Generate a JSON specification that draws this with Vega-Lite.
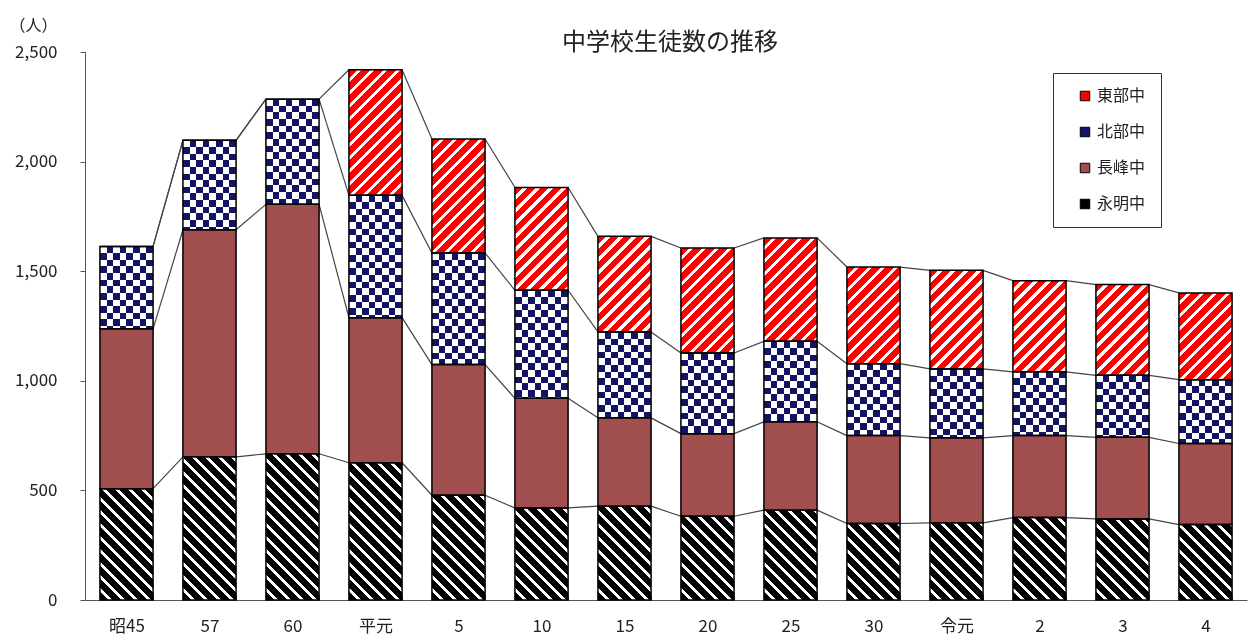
{
  "$schema": "https://vega.github.io/schema/vega-lite/v6.json",
  "width": 1162,
  "height": 548,
  "autosize": {"type": "none"},
  "padding": {"left": 85, "top": 52, "right": 1, "bottom": 39},
  "title": {"text": "中学校生徒数の推移", "fontSize": 24, "fontWeight": "normal", "font": "Noto Sans CJK JP", "color": "#222", "anchor": "middle", "frame": "group", "offset": 4, "dx": 4, "dy": 42},
  "params": [
    {"name": "redStops", "value": [
      {"offset": 0, "color": "#f00"}, {"offset": 0.04, "color": "#f00"}, {"offset": 0.04, "color": "#fff"}, {"offset": 0.0625, "color": "#fff"},
      {"offset": 0.0625, "color": "#f00"}, {"offset": 0.1025, "color": "#f00"}, {"offset": 0.1025, "color": "#fff"}, {"offset": 0.125, "color": "#fff"},
      {"offset": 0.125, "color": "#f00"}, {"offset": 0.165, "color": "#f00"}, {"offset": 0.165, "color": "#fff"}, {"offset": 0.1875, "color": "#fff"},
      {"offset": 0.1875, "color": "#f00"}, {"offset": 0.2275, "color": "#f00"}, {"offset": 0.2275, "color": "#fff"}, {"offset": 0.25, "color": "#fff"},
      {"offset": 0.25, "color": "#f00"}, {"offset": 0.29, "color": "#f00"}, {"offset": 0.29, "color": "#fff"}, {"offset": 0.3125, "color": "#fff"},
      {"offset": 0.3125, "color": "#f00"}, {"offset": 0.3525, "color": "#f00"}, {"offset": 0.3525, "color": "#fff"}, {"offset": 0.375, "color": "#fff"},
      {"offset": 0.375, "color": "#f00"}, {"offset": 0.415, "color": "#f00"}, {"offset": 0.415, "color": "#fff"}, {"offset": 0.4375, "color": "#fff"},
      {"offset": 0.4375, "color": "#f00"}, {"offset": 0.4775, "color": "#f00"}, {"offset": 0.4775, "color": "#fff"}, {"offset": 0.5, "color": "#fff"},
      {"offset": 0.5, "color": "#f00"}, {"offset": 0.54, "color": "#f00"}, {"offset": 0.54, "color": "#fff"}, {"offset": 0.5625, "color": "#fff"},
      {"offset": 0.5625, "color": "#f00"}, {"offset": 0.6025, "color": "#f00"}, {"offset": 0.6025, "color": "#fff"}, {"offset": 0.625, "color": "#fff"},
      {"offset": 0.625, "color": "#f00"}, {"offset": 0.665, "color": "#f00"}, {"offset": 0.665, "color": "#fff"}, {"offset": 0.6875, "color": "#fff"},
      {"offset": 0.6875, "color": "#f00"}, {"offset": 0.7275, "color": "#f00"}, {"offset": 0.7275, "color": "#fff"}, {"offset": 0.75, "color": "#fff"},
      {"offset": 0.75, "color": "#f00"}, {"offset": 0.79, "color": "#f00"}, {"offset": 0.79, "color": "#fff"}, {"offset": 0.8125, "color": "#fff"},
      {"offset": 0.8125, "color": "#f00"}, {"offset": 0.8525, "color": "#f00"}, {"offset": 0.8525, "color": "#fff"}, {"offset": 0.875, "color": "#fff"},
      {"offset": 0.875, "color": "#f00"}, {"offset": 0.915, "color": "#f00"}, {"offset": 0.915, "color": "#fff"}, {"offset": 0.9375, "color": "#fff"},
      {"offset": 0.9375, "color": "#f00"}, {"offset": 0.9775, "color": "#f00"}, {"offset": 0.9775, "color": "#fff"}, {"offset": 1, "color": "#fff"}
    ]},
    {"name": "blackStops", "value": [
      {"offset": 0, "color": "#000"}, {"offset": 0.04, "color": "#000"}, {"offset": 0.04, "color": "#fff"}, {"offset": 0.0625, "color": "#fff"},
      {"offset": 0.0625, "color": "#000"}, {"offset": 0.1025, "color": "#000"}, {"offset": 0.1025, "color": "#fff"}, {"offset": 0.125, "color": "#fff"},
      {"offset": 0.125, "color": "#000"}, {"offset": 0.165, "color": "#000"}, {"offset": 0.165, "color": "#fff"}, {"offset": 0.1875, "color": "#fff"},
      {"offset": 0.1875, "color": "#000"}, {"offset": 0.2275, "color": "#000"}, {"offset": 0.2275, "color": "#fff"}, {"offset": 0.25, "color": "#fff"},
      {"offset": 0.25, "color": "#000"}, {"offset": 0.29, "color": "#000"}, {"offset": 0.29, "color": "#fff"}, {"offset": 0.3125, "color": "#fff"},
      {"offset": 0.3125, "color": "#000"}, {"offset": 0.3525, "color": "#000"}, {"offset": 0.3525, "color": "#fff"}, {"offset": 0.375, "color": "#fff"},
      {"offset": 0.375, "color": "#000"}, {"offset": 0.415, "color": "#000"}, {"offset": 0.415, "color": "#fff"}, {"offset": 0.4375, "color": "#fff"},
      {"offset": 0.4375, "color": "#000"}, {"offset": 0.4775, "color": "#000"}, {"offset": 0.4775, "color": "#fff"}, {"offset": 0.5, "color": "#fff"},
      {"offset": 0.5, "color": "#000"}, {"offset": 0.54, "color": "#000"}, {"offset": 0.54, "color": "#fff"}, {"offset": 0.5625, "color": "#fff"},
      {"offset": 0.5625, "color": "#000"}, {"offset": 0.6025, "color": "#000"}, {"offset": 0.6025, "color": "#fff"}, {"offset": 0.625, "color": "#fff"},
      {"offset": 0.625, "color": "#000"}, {"offset": 0.665, "color": "#000"}, {"offset": 0.665, "color": "#fff"}, {"offset": 0.6875, "color": "#fff"},
      {"offset": 0.6875, "color": "#000"}, {"offset": 0.7275, "color": "#000"}, {"offset": 0.7275, "color": "#fff"}, {"offset": 0.75, "color": "#fff"},
      {"offset": 0.75, "color": "#000"}, {"offset": 0.79, "color": "#000"}, {"offset": 0.79, "color": "#fff"}, {"offset": 0.8125, "color": "#fff"},
      {"offset": 0.8125, "color": "#000"}, {"offset": 0.8525, "color": "#000"}, {"offset": 0.8525, "color": "#fff"}, {"offset": 0.875, "color": "#fff"},
      {"offset": 0.875, "color": "#000"}, {"offset": 0.915, "color": "#000"}, {"offset": 0.915, "color": "#fff"}, {"offset": 0.9375, "color": "#fff"},
      {"offset": 0.9375, "color": "#000"}, {"offset": 0.9775, "color": "#000"}, {"offset": 0.9775, "color": "#fff"}, {"offset": 1, "color": "#fff"}
    ]},
    {"name": "vStops", "value": [
      {"offset": 0, "color": "#000"}, {"offset": 0.125, "color": "#000"}, {"offset": 0.125, "color": "#fff"}, {"offset": 0.25, "color": "#fff"},
      {"offset": 0.25, "color": "#000"}, {"offset": 0.375, "color": "#000"}, {"offset": 0.375, "color": "#fff"}, {"offset": 0.5, "color": "#fff"},
      {"offset": 0.5, "color": "#000"}, {"offset": 0.625, "color": "#000"}, {"offset": 0.625, "color": "#fff"}, {"offset": 0.75, "color": "#fff"},
      {"offset": 0.75, "color": "#000"}, {"offset": 0.875, "color": "#000"}, {"offset": 0.875, "color": "#fff"}, {"offset": 1, "color": "#fff"}
    ]},
    {"name": "hStops", "value": [
      {"offset": 0, "color": "#fff"}, {"offset": 0.05, "color": "#fff"}, {"offset": 0.05, "color": "rgba(255,255,255,0)"}, {"offset": 0.1, "color": "rgba(255,255,255,0)"},
      {"offset": 0.1, "color": "#fff"}, {"offset": 0.15, "color": "#fff"}, {"offset": 0.15, "color": "rgba(255,255,255,0)"}, {"offset": 0.2, "color": "rgba(255,255,255,0)"},
      {"offset": 0.2, "color": "#fff"}, {"offset": 0.25, "color": "#fff"}, {"offset": 0.25, "color": "rgba(255,255,255,0)"}, {"offset": 0.3, "color": "rgba(255,255,255,0)"},
      {"offset": 0.3, "color": "#fff"}, {"offset": 0.35, "color": "#fff"}, {"offset": 0.35, "color": "rgba(255,255,255,0)"}, {"offset": 0.4, "color": "rgba(255,255,255,0)"},
      {"offset": 0.4, "color": "#fff"}, {"offset": 0.45, "color": "#fff"}, {"offset": 0.45, "color": "rgba(255,255,255,0)"}, {"offset": 0.5, "color": "rgba(255,255,255,0)"},
      {"offset": 0.5, "color": "#fff"}, {"offset": 0.55, "color": "#fff"}, {"offset": 0.55, "color": "rgba(255,255,255,0)"}, {"offset": 0.6, "color": "rgba(255,255,255,0)"},
      {"offset": 0.6, "color": "#fff"}, {"offset": 0.65, "color": "#fff"}, {"offset": 0.65, "color": "rgba(255,255,255,0)"}, {"offset": 0.7, "color": "rgba(255,255,255,0)"},
      {"offset": 0.7, "color": "#fff"}, {"offset": 0.75, "color": "#fff"}, {"offset": 0.75, "color": "rgba(255,255,255,0)"}, {"offset": 0.8, "color": "rgba(255,255,255,0)"},
      {"offset": 0.8, "color": "#fff"}, {"offset": 0.85, "color": "#fff"}, {"offset": 0.85, "color": "rgba(255,255,255,0)"}, {"offset": 0.9, "color": "rgba(255,255,255,0)"},
      {"offset": 0.9, "color": "#fff"}, {"offset": 0.95, "color": "#fff"}, {"offset": 0.95, "color": "rgba(255,255,255,0)"}, {"offset": 1, "color": "rgba(255,255,255,0)"}
    ]}
  ],
  "data": {
    "values": [
      {"cat": "昭45", "school": "永明中", "n": 508}, {"cat": "昭45", "school": "長峰中", "n": 729}, {"cat": "昭45", "school": "北部中", "n": 376}, {"cat": "昭45", "school": "東部中", "n": 0},
      {"cat": "57", "school": "永明中", "n": 653}, {"cat": "57", "school": "長峰中", "n": 1036}, {"cat": "57", "school": "北部中", "n": 408}, {"cat": "57", "school": "東部中", "n": 0},
      {"cat": "60", "school": "永明中", "n": 667}, {"cat": "60", "school": "長峰中", "n": 1138}, {"cat": "60", "school": "北部中", "n": 480}, {"cat": "60", "school": "東部中", "n": 0},
      {"cat": "平元", "school": "永明中", "n": 626}, {"cat": "平元", "school": "長峰中", "n": 662}, {"cat": "平元", "school": "北部中", "n": 558}, {"cat": "平元", "school": "東部中", "n": 573},
      {"cat": "5", "school": "永明中", "n": 478}, {"cat": "5", "school": "長峰中", "n": 596}, {"cat": "5", "school": "北部中", "n": 509}, {"cat": "5", "school": "東部中", "n": 520},
      {"cat": "10", "school": "永明中", "n": 420}, {"cat": "10", "school": "長峰中", "n": 500}, {"cat": "10", "school": "北部中", "n": 493}, {"cat": "10", "school": "東部中", "n": 469},
      {"cat": "15", "school": "永明中", "n": 428}, {"cat": "15", "school": "長峰中", "n": 403}, {"cat": "15", "school": "北部中", "n": 392}, {"cat": "15", "school": "東部中", "n": 436},
      {"cat": "20", "school": "永明中", "n": 382}, {"cat": "20", "school": "長峰中", "n": 377}, {"cat": "20", "school": "北部中", "n": 368}, {"cat": "20", "school": "東部中", "n": 479},
      {"cat": "25", "school": "永明中", "n": 410}, {"cat": "25", "school": "長峰中", "n": 403}, {"cat": "25", "school": "北部中", "n": 367}, {"cat": "25", "school": "東部中", "n": 472},
      {"cat": "30", "school": "永明中", "n": 349}, {"cat": "30", "school": "長峰中", "n": 401}, {"cat": "30", "school": "北部中", "n": 328}, {"cat": "30", "school": "東部中", "n": 441},
      {"cat": "令元", "school": "永明中", "n": 352}, {"cat": "令元", "school": "長峰中", "n": 388}, {"cat": "令元", "school": "北部中", "n": 314}, {"cat": "令元", "school": "東部中", "n": 450},
      {"cat": "2", "school": "永明中", "n": 376}, {"cat": "2", "school": "長峰中", "n": 374}, {"cat": "2", "school": "北部中", "n": 291}, {"cat": "2", "school": "東部中", "n": 416},
      {"cat": "3", "school": "永明中", "n": 370}, {"cat": "3", "school": "長峰中", "n": 372}, {"cat": "3", "school": "北部中", "n": 283}, {"cat": "3", "school": "東部中", "n": 414},
      {"cat": "4", "school": "永明中", "n": 344}, {"cat": "4", "school": "長峰中", "n": 370}, {"cat": "4", "school": "北部中", "n": 291}, {"cat": "4", "school": "東部中", "n": 396}
    ]
  },
  "transform": [
    {"calculate": "indexof(['永明中','長峰中','北部中','東部中'], datum.school)", "as": "idx"},
    {"calculate": "indexof(['昭45','57','60','平元','5','10','15','20','25','30','令元','2','3','4'], datum.cat)", "as": "ci"},
    {"stack": "n", "groupby": ["cat"], "sort": [{"field": "idx", "order": "ascending"}], "as": ["s0", "s1"]},
    {"window": [{"op": "lead", "field": "s1", "as": "ns1"}, {"op": "lead", "field": "cat", "as": "ncat"}], "groupby": ["school"], "sort": [{"field": "ci", "order": "ascending"}]}
  ],
  "encoding": {
    "x": {
      "field": "cat", "type": "ordinal",
      "sort": ["昭45", "57", "60", "平元", "5", "10", "15", "20", "25", "30", "令元", "2", "3", "4"],
      "axis": {"title": null, "labelAngle": 0, "labelFontSize": 17, "labelColor": "#222", "tickBand": "extent", "tickSize": -5, "labelPadding": 23}
    },
    "y": {
      "field": "s1", "type": "quantitative",
      "scale": {"domain": [0, 2500], "nice": false},
      "axis": {
        "title": "（人）", "titleAngle": 0, "titleAlign": "right", "titleBaseline": "middle", "titleX": -28, "titleY": -27,
        "titleFontSize": 16, "titleFontWeight": "normal", "titleColor": "#222",
        "values": [0, 500, 1000, 1500, 2000, 2500], "format": ",.0f",
        "labelFontSize": 17, "labelColor": "#222", "labelPadding": 23, "tickSize": 5
      }
    }
  },
  "layer": [
    {
      "transform": [{"filter": "datum.ncat != null"}],
      "mark": {"type": "rule", "color": "#444", "strokeWidth": 1.2},
      "encoding": {
        "x": {"field": "cat", "type": "ordinal", "sort": ["昭45", "57", "60", "平元", "5", "10", "15", "20", "25", "30", "令元", "2", "3", "4"], "bandPosition": 1},
        "x2": {"field": "ncat", "bandPosition": 0},
        "y2": {"field": "ns1"}
      }
    },
    {
      "mark": {"type": "bar"},
      "encoding": {
        "y2": {"field": "s0"},
        "fill": {
          "field": "school", "type": "nominal",
          "scale": {
            "domain": ["東部中", "北部中", "長峰中", "永明中"],
            "range": ["#f00", "#141464", "#a04e4e", "#000"]
          },
          "legend": {
            "title": null, "orient": "none", "legendX": 968, "legendY": 21, "direction": "vertical",
            "symbolType": "square", "symbolSize": 90, "symbolStrokeColor": "#000", "symbolStrokeWidth": 1,
            "labelFontSize": 16, "labelColor": "#222", "labelOffset": 4, "rowPadding": 20,
            "padding": 15, "symbolOffset": 9, "strokeColor": "#333", "fillColor": "#fff"
          }
        }
      }
    },
    {
      "mark": {
        "type": "bar",
        "fill": {"expr": "datum.school==='東部中'?{gradient:'linear',x1:0,y1:0,x2:208*bandwidth('x')/(bandwidth('x')*bandwidth('x')+pow(scale('y',datum.s0)-scale('y',datum.s1),2)),y2:208*(scale('y',datum.s0)-scale('y',datum.s1))/(bandwidth('x')*bandwidth('x')+pow(scale('y',datum.s0)-scale('y',datum.s1),2)),stops:redStops}:datum.school==='永明中'?{gradient:'linear',x1:0,y1:1,x2:208*bandwidth('x')/(bandwidth('x')*bandwidth('x')+pow(scale('y',datum.s0)-scale('y',datum.s1),2)),y2:1-208*(scale('y',datum.s0)-scale('y',datum.s1))/(bandwidth('x')*bandwidth('x')+pow(scale('y',datum.s0)-scale('y',datum.s1),2)),stops:blackStops}:datum.school==='北部中'?{gradient:'linear',x1:0,y1:0,x2:1,y2:0,stops:vStops}:'#a04e4e'"}
      },
      "encoding": {"y2": {"field": "s0"}}
    },
    {
      "transform": [{"filter": "datum.school==='北部中'"}],
      "mark": {
        "type": "bar", "blend": "difference",
        "fill": {"expr": "{gradient:'linear',x1:0,y1:0,x2:0,y2:132.8/max(scale('y',datum.s0)-scale('y',datum.s1),1),stops:hStops}"}
      },
      "encoding": {"y2": {"field": "s0"}}
    },
    {
      "transform": [{"filter": "datum.school==='北部中'"}],
      "mark": {"type": "bar", "blend": "lighten", "fill": "#141464"},
      "encoding": {"y2": {"field": "s0"}}
    },
    {
      "mark": {"type": "bar", "filled": false, "stroke": "#000", "strokeWidth": 1.5},
      "encoding": {"y2": {"field": "s0"}}
    }
  ],
  "config": {
    "font": "Noto Sans CJK JP",
    "view": {"stroke": null},
    "scale": {"bandPaddingInner": 0.36, "bandPaddingOuter": 0.18},
    "axis": {"grid": false, "domainColor": "#555", "tickColor": "#555", "labelFont": "Noto Sans CJK JP", "titleFont": "Noto Sans CJK JP"},
    "legend": {"labelFont": "Noto Sans CJK JP"}
  }
}
